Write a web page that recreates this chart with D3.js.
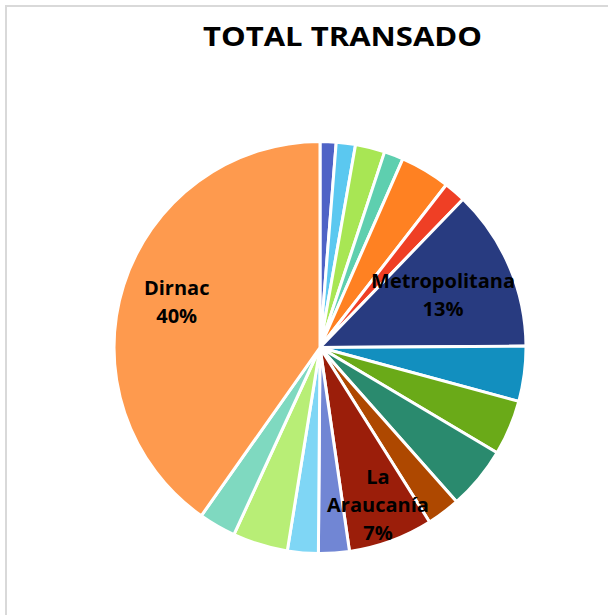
<!DOCTYPE html>
<html>
<head>
<meta charset="utf-8">
<script src="https://cdn.jsdelivr.net/npm/d3@7"></script>
<style>
  html, body { margin: 0; padding: 0; background: #fff; }
  svg { display: block; }
</style>
</head>
<body>
<div id="chart"></div>
<script>
// Data (% of total)
const regions = ["Arica y Parinacota", "Tarapacá", "Antofagasta", "Atacama", "Coquimbo",
  "Valparaíso", "Metropolitana", "O'Higgins", "Maule", "Ñuble", "Biobío", "La Araucanía",
  "Los Ríos", "Los Lagos", "Aysén", "Magallanes", "Dirnac"];
const shares = [1.25, 1.5, 2.3, 1.5, 3.9, 1.7, 12.6, 4.3, 4.3, 4.9, 2.6, 6.6, 2.4, 2.4, 4.3, 2.9, 40];
const sliceColors = ["#4f63c6", "#5bc8f0", "#a8e654", "#5ecfaf", "#ff8122", "#ef3f25", "#283b80",
  "#128fbf", "#6aaa18", "#2a8a6e", "#ae4800", "#9b1e0a", "#7186d4", "#7fd6f5", "#b8ee76",
  "#7fd9c0", "#fe9a4e"];
const labelled = { "Dirnac": ["Dirnac", "40%"], "Metropolitana": ["Metropolitana", "13%"],
  "La Araucanía": ["La", "Araucanía", "7%"] };

// Layout
const w = 608, h = 615;
const cx = 320, cy = 347.5, radius = 206;
// how far out along the slice each label sits (fraction of radius)
const labelPos = { "Dirnac": 0.73, "Metropolitana": 0.65, "La Araucanía": 0.815 };
const lineH = 28;
const font = "'Open Sans', sans-serif";

const svg = d3.select("#chart").append("svg")
    .attr("width", w)
    .attr("height", h);

// chart frame
svg.append("rect")
    .attr("x", 6).attr("y", 6)
    .attr("width", w + 20).attr("height", h + 20)
    .attr("fill", "none")
    .attr("stroke", "#d9d9d9")
    .attr("stroke-width", 2);

svg.append("text")
    .attr("x", 342.5).attr("y", 46)
    .attr("text-anchor", "middle")
    .style("font-family", font)
    .style("font-weight", "bold")
    .style("font-size", "26px")
    .attr("textLength", 279)
    .attr("lengthAdjust", "spacingAndGlyphs")
    .text("TOTAL TRANSADO");

const data = regions.map((name, i) => ({ name, value: shares[i], color: sliceColors[i] }));

const pie = d3.pie().value(d => d.value).sort(null);
const arc = d3.arc().innerRadius(0).outerRadius(radius);
const arcs = pie(data);

const g = svg.append("g").attr("transform", `translate(${cx},${cy})`);

g.selectAll("path.slice")
  .data(arcs)
  .enter()
  .append("path")
    .attr("class", "slice")
    .attr("d", arc)
    .attr("fill", d => d.data.color)
    .attr("stroke", "#fff")
    .attr("stroke-width", 3)
    .attr("stroke-linejoin", "round");

// labels on the three big slices
const labelG = g.selectAll("g.lbl")
  .data(arcs.filter(d => labelled[d.data.name]))
  .enter()
  .append("g")
    .attr("class", "lbl")
    .attr("transform", d => {
      const r = radius * labelPos[d.data.name];
      const c = d3.arc().innerRadius(r).outerRadius(r).centroid(d);
      return `translate(${c[0]},${c[1]})`;
    });

labelG.each(function(d) {
  const lines = labelled[d.data.name];
  const t = d3.select(this).append("text")
      .attr("text-anchor", "middle")
      .style("font-family", font)
      .style("font-weight", "bold")
      .style("font-size", "20px")
      .attr("fill", "#000");
  const y0 = -(lines.length - 1) * lineH / 2 + 7;
  lines.forEach((s, i) => {
    t.append("tspan").attr("x", 0).attr("y", y0 + i * lineH).text(s);
  });
});
</script>
</body>
</html>
